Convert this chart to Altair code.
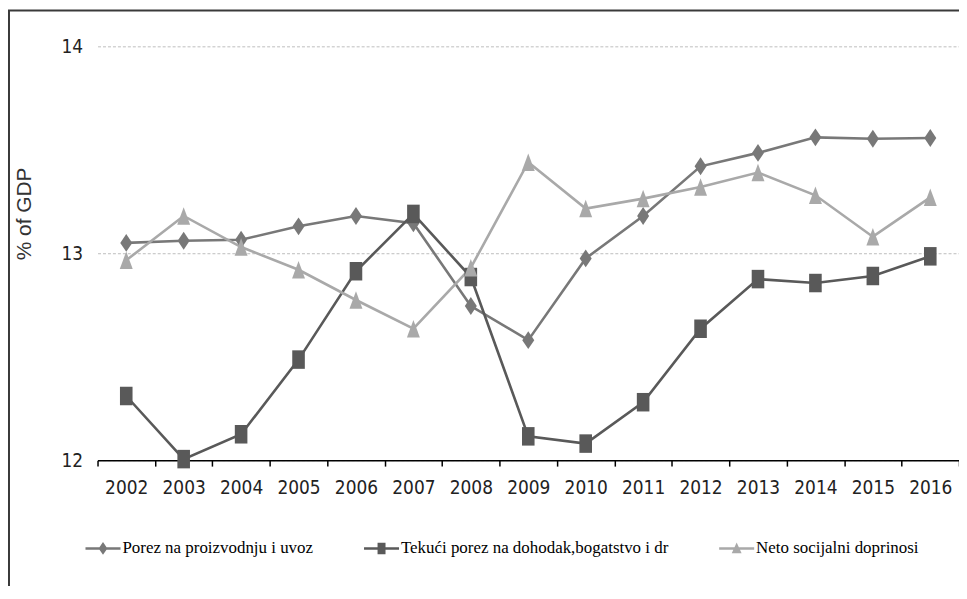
import altair as alt
import pandas as pd

years = ["2002", "2003", "2004", "2005", "2006", "2007", "2008", "2009",
         "2010", "2011", "2012", "2013", "2014", "2015", "2016"]
series_names = ["Porez na proizvodnju i uvoz",
                "Tekući porez na dohodak,bogatstvo i dr",
                "Neto socijalni doprinosi"]
porez = [13.05, 13.06, 13.065, 13.13, 13.18, 13.145, 12.745, 12.58,
         12.975, 13.18, 13.42, 13.485, 13.56, 13.553, 13.557]
tekuci = [12.31, 12.005, 12.125, 12.486, 12.913, 13.19, 12.885, 12.115,
          12.08, 12.28, 12.635, 12.875, 12.856, 12.89, 12.985]
neto = [12.966, 13.18, 13.03, 12.92, 12.774, 12.635, 12.93, 13.44,
        13.216, 13.264, 13.32, 13.39, 13.28, 13.08, 13.27]
y_min, y_max = 12, 14
colors = ["#787878", "#595959", "#a9a9a9"]

rows = []
for name, vals in zip(series_names, [porez, tekuci, neto]):
    for yr, v in zip(years, vals):
        rows.append({"year": yr, "value": v, "series": name})
df = pd.DataFrame(rows)

NARROW = "Liberation Sans Narrow, DejaVu Sans Condensed, sans-serif"
SERIF = "Liberation Serif, Times New Roman, Noto Serif, DejaVu Serif, serif"

x_scale = alt.Scale(domain=years, paddingInner=0, paddingOuter=0)
y_scale = alt.Scale(domain=[y_min, y_max], nice=False, zero=False)

x_axis = alt.Axis(title=None, labelAngle=0, labelFont=NARROW, labelFontSize=19,
                  labelColor="#222222", labelPadding=13, tickBand="extent",
                  tickSize=6, tickColor="#000000", tickWidth=1.5,
                  domainColor="#000000", domainWidth=1.5, grid=False)
y_axis = alt.Axis(tickCount=2, format="d", title="% of GDP",
                  labelFont=NARROW, labelFontSize=19, labelColor="#222222",
                  labelPadding=15, ticks=False, domain=False, labelOverlap=False,
                  grid=True, gridColor="#bdbdbd", gridDash=[3, 2], gridWidth=1,
                  titleFont="Liberation Sans, Arial, sans-serif", titleFontSize=21,
                  titleFontWeight="normal", titleColor="#333333",
                  titleAngle=270, titleX=-73, titleY=168,
                  titleAlign="center", titleBaseline="middle")

# separately ordered scales for stroke / fill so their hidden legends
# do not merge with the visible colour+shape legend
stroke_dom = [series_names[2], series_names[1], series_names[0]]
stroke_rng = [colors[2], colors[1], colors[0]]
fill_dom = [series_names[1], series_names[0], series_names[2]]
fill_rng = [colors[1], colors[0], colors[2]]

lines = alt.Chart(df).mark_line(strokeWidth=2.6).encode(
    x=alt.X("year:O", scale=x_scale, axis=x_axis),
    y=alt.Y("value:Q", scale=y_scale, axis=y_axis),
    stroke=alt.Stroke("series:N", scale=alt.Scale(domain=stroke_dom, range=stroke_rng),
                      legend=None),
    order=alt.Order("year:O"),
)

point_shapes = ["M0,-1L0.67,0L0,1L-0.67,0Z",
                "M-0.68,-1H0.68V1H-0.68Z",
                "M0,-1L0.74,1L-0.74,1Z"]
point_sizes = [324, 346, 310]
point_layers = []
for name, shp, sz in zip(series_names, point_shapes, point_sizes):
    point_layers.append(
        alt.Chart(df).transform_filter(alt.datum.series == name)
        .mark_point(shape=shp, size=sz, filled=True, opacity=1, strokeWidth=0)
        .encode(x=alt.X("year:O", scale=x_scale),
                y=alt.Y("value:Q", scale=y_scale),
                fill=alt.Fill("series:N",
                              scale=alt.Scale(domain=fill_dom, range=fill_rng),
                              legend=None))
    )

seg = "M-2.2,-0.16H2.2V0.16H-2.2Z "
legend_shapes = [seg + "M0,-0.8L0.55,0L0,0.8L-0.55,0Z",
                 seg + "M-0.5,-0.72H0.5V0.72H-0.5Z",
                 seg + "M0,-0.75L0.62,0.62L-0.62,0.62Z"]
legend_def = alt.Legend(title=None, orient="none", legendX=-3, legendY=496,
                        direction="horizontal", columns=3, padding=0,
                        labelFont=SERIF, labelFontSize=17,
                        labelColor="#000000", labelLimit=600,
                        symbolSize=256, symbolStrokeWidth=0, labelOffset=11,
                        columnPadding=50)
legend_layer = alt.Chart(df).transform_filter("datum.value < 0").mark_point(
    filled=True, opacity=1, strokeWidth=0
).encode(
    x=alt.X("year:O", scale=x_scale),
    y=alt.Y("value:Q", scale=y_scale),
    color=alt.Color("series:N", scale=alt.Scale(domain=series_names, range=colors),
                    legend=legend_def),
    shape=alt.Shape("series:N", scale=alt.Scale(domain=series_names, range=legend_shapes),
                    legend=legend_def),
)

frame_df = pd.DataFrame({"k": [0]})
frame_left = alt.Chart(frame_df).mark_rule(color="#3a3a3a", strokeWidth=2).encode(
    x=alt.value(-89), y=alt.value(-36), y2=alt.value(545))
frame_top = alt.Chart(frame_df).mark_rule(color="#3a3a3a", strokeWidth=2).encode(
    x=alt.value(-90), x2=alt.value(870), y=alt.value(-36))

chart = alt.layer(lines, *point_layers, legend_layer, frame_left, frame_top).properties(
    width=866, height=416,
    padding={"left": 90, "top": 37, "right": 0, "bottom": 125},
    autosize=alt.AutoSizeParams(type="none"),
    background="white",
).configure_view(stroke=None).configure_legend(labelFont=SERIF, labelFontSize=17)

chart.save("out.html", embed_options={"renderer": "svg", "actions": False})
